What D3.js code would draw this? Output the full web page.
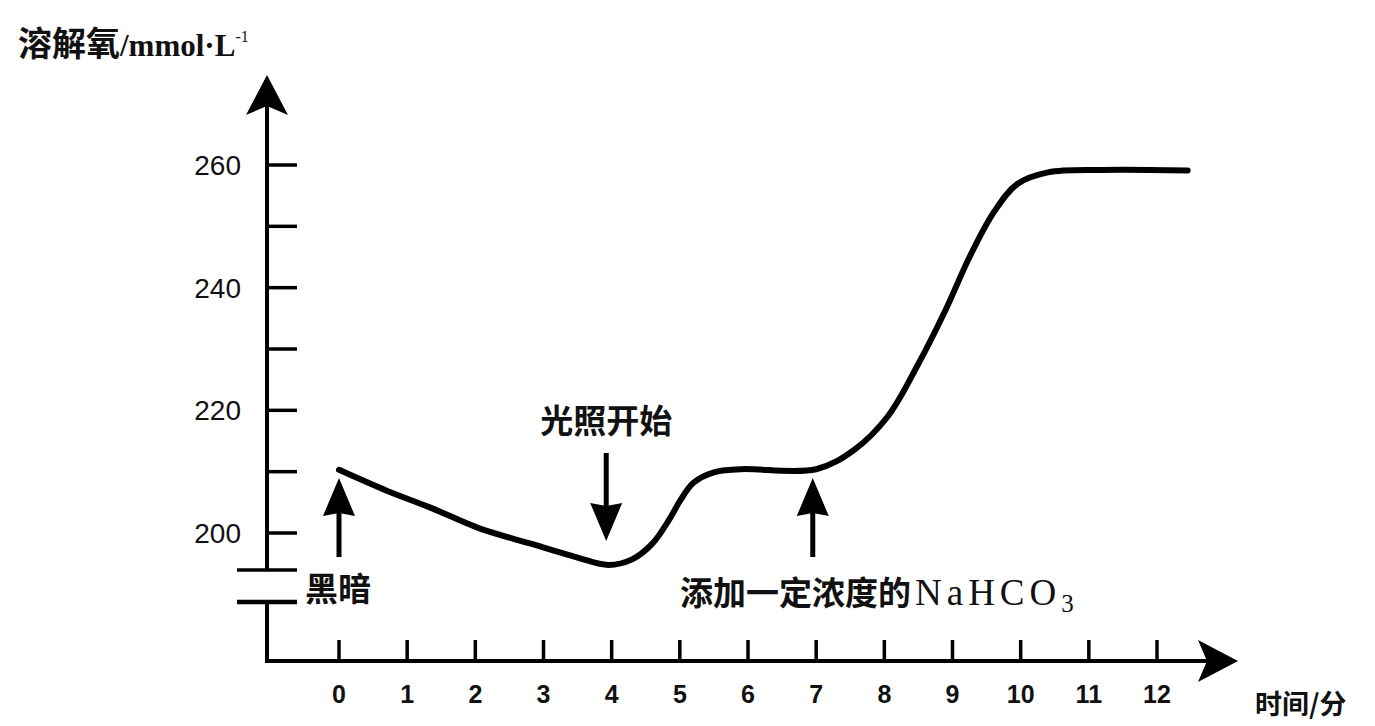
<!DOCTYPE html>
<html lang="zh">
<head>
<meta charset="UTF-8">
<title>溶解氧变化曲线</title>
<script src="https://cdn.jsdelivr.net/npm/d3@7"></script>
<style>
  body { margin: 0; background: #fff; }
  svg text { fill: #111; }
  .cjk { font-family: "Noto Sans CJK SC", sans-serif; font-weight: 700; }
  .num { font-family: "Liberation Sans", Arial, sans-serif; }
</style>
</head>
<body>
<div id="chart"></div>
<script>
// 时间（分）与溶解氧（mmol·L-1）
const times  = [0, 0.7, 1.35, 2.05, 2.8, 3.5, 3.95, 4.3, 4.6, 4.85, 5.0, 5.2, 5.5, 5.9, 7.0, 7.55, 8.05, 8.5, 8.9, 9.25, 9.6, 9.95, 10.4, 11.2, 12.45];
const oxygen = [210.3, 206.9, 204.1, 200.8, 198.3, 196, 194.8, 195.7, 198.3, 202.3, 205.2, 208.2, 209.9, 210.4, 210.4, 213.5, 219, 227.6, 236.4, 245, 252.2, 256.9, 258.8, 259.2, 259.1];

const xTicks = [0, 1, 2, 3, 4, 5, 6, 7, 8, 9, 10, 11, 12];
const yTicks = [200, 210, 220, 230, 240, 250, 260];
const yLabels = [200, 220, 240, 260];

// 箭头标注
const notes = [
  { t: 0,    text: "黑暗",            dir: "up" },
  { t: 3.92, text: "光照开始",        dir: "down" },
  { t: 6.95, text: "添加一定浓度的", chem: "NaHCO", sub: "3", dir: "up" }
];

const width = 1375, height = 726;
const x = d3.scaleLinear().domain([0, 12]).range([339, 1157]);
const y = d3.scaleLinear().domain([200, 260]).range([533, 165]);
const axisX = 267, axisY = 661;

const svg = d3.select("#chart").append("svg")
  .attr("width", width).attr("height", height)
  .style("background", "#fff");

const g = svg.append("g");

// y 轴（中间断开）
g.append("line").attr("x1", axisX).attr("x2", axisX).attr("y1", 100).attr("y2", 570)
  .attr("stroke", "#000").attr("stroke-width", 4);
g.append("line").attr("x1", axisX).attr("x2", axisX).attr("y1", 602).attr("y2", axisY + 2)
  .attr("stroke", "#000").attr("stroke-width", 4);
// 断裂符号
g.append("line").attr("x1", 237).attr("x2", 297).attr("y1", 570).attr("y2", 570)
  .attr("stroke", "#000").attr("stroke-width", 3.5);
g.append("line").attr("x1", 237).attr("x2", 297).attr("y1", 602).attr("y2", 602)
  .attr("stroke", "#000").attr("stroke-width", 4.5);

// x 轴
g.append("line").attr("x1", axisX - 2).attr("x2", 1215).attr("y1", axisY).attr("y2", axisY)
  .attr("stroke", "#000").attr("stroke-width", 4);

// 轴箭头
function barb(tx, ty, dx, dy, len, half, notch) {
  // dx,dy 为箭头方向单位向量
  const bx = tx - dx * len, by = ty - dy * len;
  const px = -dy, py = dx;
  const nx = tx - dx * (len - notch), ny = ty - dy * (len - notch);
  return `M${tx},${ty}L${bx + px * half},${by + py * half}L${nx},${ny}L${bx - px * half},${by - py * half}Z`;
}
g.append("path").attr("d", barb(axisX, 75, 0, -1, 40, 21, 9)).attr("fill", "#000");
g.append("path").attr("d", barb(1238, axisY, 1, 0, 40, 21, 9)).attr("fill", "#000");

// y 刻度
g.selectAll(".ytick").data(yTicks).join("line")
  .attr("x1", axisX).attr("x2", 297)
  .attr("y1", d => y(d)).attr("y2", d => y(d))
  .attr("stroke", "#000").attr("stroke-width", 3.5);
g.selectAll(".ylab").data(yLabels).join("text")
  .attr("class", "num")
  .attr("x", 241).attr("y", d => y(d) + 10)
  .attr("text-anchor", "end")
  .attr("font-size", 28)
  .text(d => d);

// x 刻度
g.selectAll(".xtick").data(xTicks).join("line")
  .attr("x1", d => x(d)).attr("x2", d => x(d))
  .attr("y1", axisY).attr("y2", axisY - 21)
  .attr("stroke", "#000").attr("stroke-width", 3.5);
g.selectAll(".xlab").data(xTicks).join("text")
  .attr("class", "num")
  .attr("x", d => x(d)).attr("y", 703)
  .attr("text-anchor", "middle")
  .attr("font-size", 25)
  .attr("font-weight", 700)
  .text(d => d);

// 轴标题
const yTitle = g.append("text").attr("x", 18).attr("y", 56).attr("font-size", 34);
yTitle.append("tspan").attr("class", "cjk").text("溶解氧");
yTitle.append("tspan").attr("font-family", "Liberation Serif, serif").attr("font-weight", 700)
  .attr("font-size", 31).text("/mmol·L");
yTitle.append("tspan").attr("font-family", "Liberation Serif, serif").attr("font-size", 16)
  .attr("dy", -14).text("-1");

g.append("text").attr("class", "cjk").attr("x", 1255).attr("y", 714)
  .attr("font-size", 27).text("时间/分");

// 曲线
const pts = times.map((t, i) => [t, oxygen[i]]);
g.append("path")
  .datum(pts)
  .attr("fill", "none")
  .attr("stroke", "#000")
  .attr("stroke-width", 6)
  .attr("stroke-linecap", "round")
  .attr("d", d3.line().x(d => x(d[0])).y(d => y(d[1])).curve(d3.curveCatmullRom.alpha(0.5)));

// 标注箭头
function arrow(cx, y1, y2) {
  // 从 y1 指向 y2
  const dir = y2 > y1 ? 1 : -1;
  const headLen = 38, half = 16;
  g.append("line").attr("x1", cx).attr("x2", cx)
    .attr("y1", y1).attr("y2", y2 - dir * headLen + dir * 4)
    .attr("stroke", "#000").attr("stroke-width", 5);
  g.append("path").attr("d", barb(cx, y2, 0, dir, headLen, half, 3)).attr("fill", "#000");
}

notes.forEach(n => {
  const cx = x(n.t);
  if (n.dir === "up") {
    arrow(cx, 557, 478);
  } else {
    arrow(cx, 453, 541);
  }
});

g.append("text").attr("class", "cjk").attr("x", 305).attr("y", 601).attr("font-size", 33).text(notes[0].text);
g.append("text").attr("class", "cjk").attr("x", x(notes[1].t)).attr("y", 433)
  .attr("text-anchor", "middle").attr("font-size", 33).text(notes[1].text);
const t3 = g.append("text").attr("x", 680).attr("y", 605).attr("font-size", 33);
t3.append("tspan").attr("class", "cjk").text(notes[2].text);
t3.append("tspan").attr("font-family", "Liberation Serif, serif").attr("font-size", 37)
  .attr("letter-spacing", 5).attr("dx", 4).text(notes[2].chem);
t3.append("tspan").attr("font-family", "Liberation Serif, serif").attr("font-size", 25)
  .attr("dy", 7).text(notes[2].sub);
</script>
</body>
</html>
